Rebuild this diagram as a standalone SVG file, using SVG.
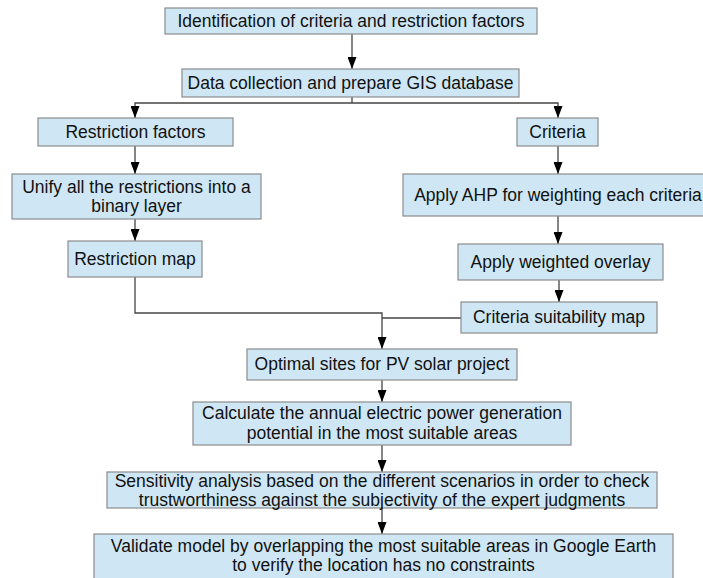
<svg xmlns="http://www.w3.org/2000/svg" width="703" height="578" viewBox="0 0 703 578">
<defs>
<style>
.box rect{fill:#cfe7f5;stroke:#8c8c8c;stroke-width:1.2}
.box text{font-family:"Liberation Sans",Arial,sans-serif;font-size:17.5px;fill:#111;text-anchor:middle}
.conn path{fill:none;stroke:#444;stroke-width:1.3}
</style>
<marker id="a" markerWidth="12" markerHeight="9" refX="12" refY="4.5" orient="auto" markerUnits="userSpaceOnUse" viewBox="0 0 12 9">
<path d="M0,0 L12,4.5 L0,9 Z" fill="#000"/>
</marker>
</defs>
<rect width="703" height="578" fill="#fff"/>
<g class="conn">
<path d="M352,34 V69" marker-end="url(#a)"/>
<path d="M352,97 V103"/>
<path d="M352,103 H135 V118" marker-end="url(#a)"/>
<path d="M352,103 H558 V118" marker-end="url(#a)"/>
<path d="M135,146 V174" marker-end="url(#a)"/>
<path d="M135,219 V241" marker-end="url(#a)"/>
<path d="M558,146 V174" marker-end="url(#a)"/>
<path d="M558,216 V244" marker-end="url(#a)"/>
<path d="M559,280 V302" marker-end="url(#a)"/>
<path d="M135,277 V313 H382 V349" marker-end="url(#a)"/>
<path d="M461,318 H382"/>
<path d="M382,380 V402" marker-end="url(#a)"/>
<path d="M382,445 V472" marker-end="url(#a)"/>
<path d="M382,508 V534" marker-end="url(#a)"/>
</g>
<g id="n1" class="box"><rect x="165" y="8" width="372" height="26"/><text x="351" y="27">Identification of criteria and restriction factors</text></g>
<g id="n2" class="box"><rect x="182" y="69" width="337" height="28"/><text x="350.5" y="89">Data collection and prepare GIS database</text></g>
<g id="n3" class="box"><rect x="38" y="118" width="195" height="28"/><text x="135.5" y="138">Restriction factors</text></g>
<g id="n4" class="box"><rect x="517" y="118" width="81" height="28"/><text x="557.5" y="138">Criteria</text></g>
<g id="n5" class="box"><rect x="12" y="174" width="249" height="45"/><text x="136.5" y="193">Unify all the restrictions into a</text><text x="136.5" y="212">binary layer</text></g>
<g id="n6" class="box"><rect x="403" y="174" width="310" height="42"/><text x="558" y="201">Apply AHP for weighting each criteria</text></g>
<g id="n7" class="box"><rect x="68" y="241" width="134" height="36"/><text x="135" y="265">Restriction map</text></g>
<g id="n8" class="box"><rect x="458" y="244" width="205" height="36"/><text x="560.5" y="268">Apply weighted overlay</text></g>
<g id="n9" class="box"><rect x="461" y="302" width="196" height="31"/><text x="559" y="323">Criteria suitability map</text></g>
<g id="n10" class="box"><rect x="247" y="349" width="270" height="31"/><text x="382" y="370">Optimal sites for PV solar project</text></g>
<g id="n11" class="box"><rect x="193" y="402" width="378" height="43"/><text x="382" y="419">Calculate the annual electric power generation</text><text x="382" y="439">potential in the most suitable areas</text></g>
<g id="n12" class="box"><rect x="107" y="472" width="550" height="36"/><text x="382" y="487">Sensitivity analysis based on the different scenarios in order to check</text><text x="382" y="506">trustworthiness against the subjectivity of the expert judgments</text></g>
<g id="n13" class="box"><rect x="94" y="534" width="579" height="46"/><text x="383.5" y="552">Validate model by overlapping the most suitable areas in Google Earth</text><text x="383.5" y="571">to verify the location has no constraints</text></g>
</svg>
